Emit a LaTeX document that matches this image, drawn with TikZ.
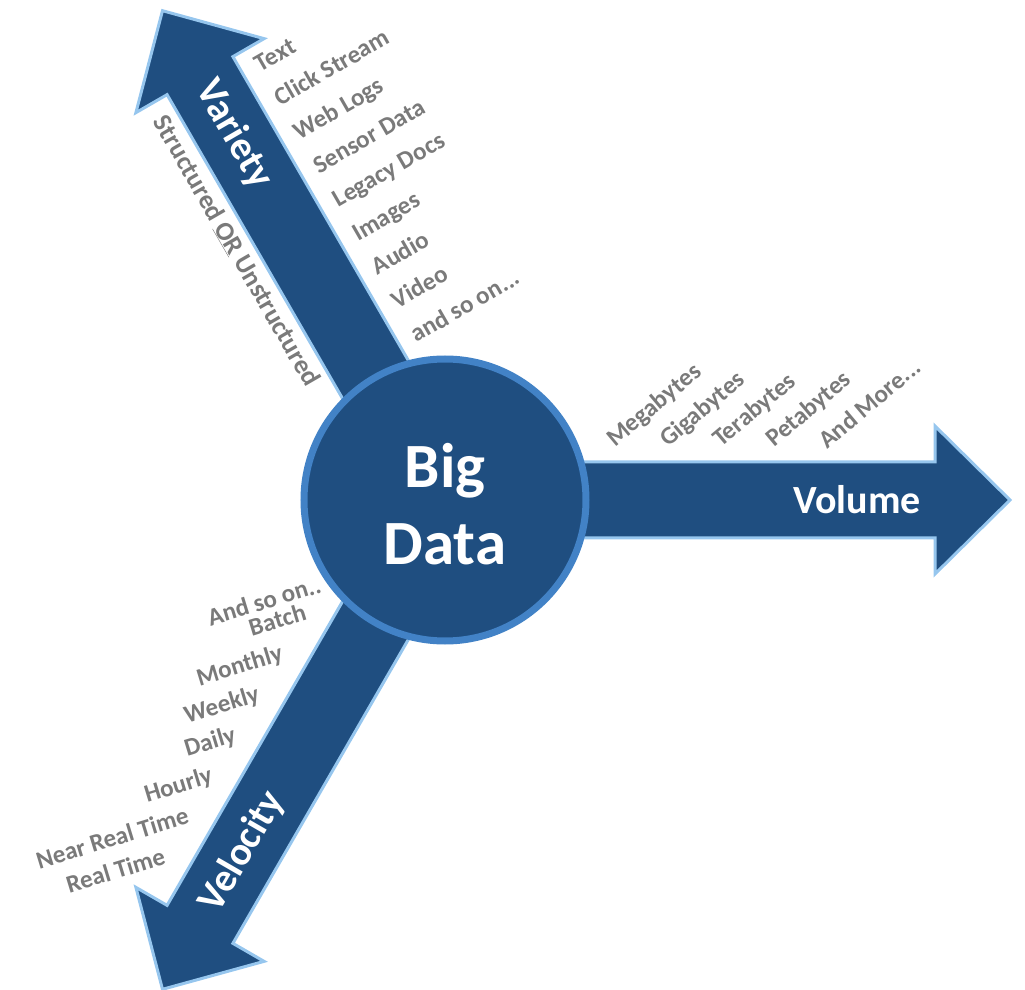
\documentclass[tikz,border=0pt]{standalone}
\usepackage{fontspec}
\setmainfont{Carlito}

\definecolor{bdblue}{RGB}{31,78,128}
\definecolor{bdring}{RGB}{66,130,198}
\definecolor{bdglow}{RGB}{150,198,238}
\definecolor{bdgray}{RGB}{122,122,122}

\tikzset{
  bigarrow/.style={fill=bdblue, draw=bdglow, line width=3pt, line join=miter},
  hub/.style={circle, fill=bdblue, draw=bdring, line width=7pt, minimum size=282pt, inner sep=0pt},
  axislabel/.style={text=white, font=\fontsize{40}{40}\selectfont\bfseries, inner sep=0pt},
  itemlabel/.style={text=bdgray, font=\fontsize{25}{25}\selectfont\bfseries, inner sep=0pt}
}

\begin{document}
\begin{tikzpicture}[x=1pt, y=1pt]
      \useasboundingbox (-445,-490) rectangle (580,500);
      % the three arrows, all starting under the hub
      \draw[bigarrow] (0,-38) -- (490,-38) -- (490,-74) -- (565,0) -- (490,74) -- (490,38) -- (0,38) -- cycle;
      \draw[bigarrow, rotate=120] (0,-38) -- (490,-38) -- (490,-74) -- (565,0) -- (490,74) -- (490,38) -- (0,38) -- cycle;
      \draw[bigarrow, rotate=240] (0,-38) -- (490,-38) -- (490,-74) -- (565,0) -- (490,74) -- (490,38) -- (0,38) -- cycle;
      % volume
      \node (volume) [axislabel] at (412,0) {Volume};
      \path (170,52) node (mega) [itemlabel, rotate=40, anchor=base west] {Megabytes}
            (223,52) node (giga) [itemlabel, rotate=40, anchor=base west] {Gigabytes}
            (276,52) node (tera) [itemlabel, rotate=40, anchor=base west] {Terabytes}
            (329,52) node (peta) [itemlabel, rotate=40, anchor=base west] {Petabytes}
            (382,50) node (more) [itemlabel, rotate=40, anchor=base west] {And More...};
      % variety
      \begin{scope}[rotate=120]
      \node (variety) [axislabel, rotate=-60] at (422,0) {Variety};
      \node (structured) [itemlabel, font=\fontsize{26.5}{26.5}\selectfont\bfseries, rotate=-60] at (320,56) {Structured \underline{OR} Unstructured};
      \path (462,-54) node (txt) [itemlabel, rotate=30, anchor=base west] {Text}
            (423,-54) node (click) [itemlabel, rotate=30, anchor=base west] {Click Stream}
            (384,-54) node (weblogs) [itemlabel, rotate=30, anchor=base west] {Web Logs}
            (345,-54) node (sensor) [itemlabel, rotate=30, anchor=base west] {Sensor Data}
            (306,-54) node (legacy) [itemlabel, rotate=30, anchor=base west] {Legacy Docs}
            (267,-54) node (images) [itemlabel, rotate=30, anchor=base west] {Images}
            (228,-54) node (audio) [itemlabel, rotate=30, anchor=base west] {Audio}
            (189,-54) node (video) [itemlabel, rotate=30, anchor=base west] {Video}
            (150,-54) node (soon) [itemlabel, rotate=30, anchor=base west] {and so on...};
      \end{scope}
      % velocity
      \begin{scope}[rotate=240]
      \node (velocity) [axislabel, rotate=60] at (406,0) {Velocity};
      \path (141,-60) node (andsoon) [itemlabel, rotate=17, anchor=base east] {And so on..}
            (172,-59) node (batch) [itemlabel, rotate=17, anchor=base east] {Batch}
            (219,-59) node (monthly) [itemlabel, rotate=17, anchor=base east] {Monthly}
            (266,-59) node (weekly) [itemlabel, rotate=17, anchor=base east] {Weekly}
            (313,-59) node (daily) [itemlabel, rotate=17, anchor=base east] {Daily}
            (360,-59) node (hourly) [itemlabel, rotate=17, anchor=base east] {Hourly}
            (407,-59) node (nearrt) [itemlabel, rotate=17, anchor=base east] {Near Real Time}
            (454,-59) node (realtime) [itemlabel, rotate=17, anchor=base east] {Real Time};
      \end{scope}
      % hub on top
      \node (bigdata) [hub] at (0,0) {};
      \node (bigdatatext) [text=white, align=center, font=\fontsize{63}{77}\selectfont\bfseries, inner sep=0pt] at (0,-4) {Big\\Data};
\end{tikzpicture}
\end{document}
